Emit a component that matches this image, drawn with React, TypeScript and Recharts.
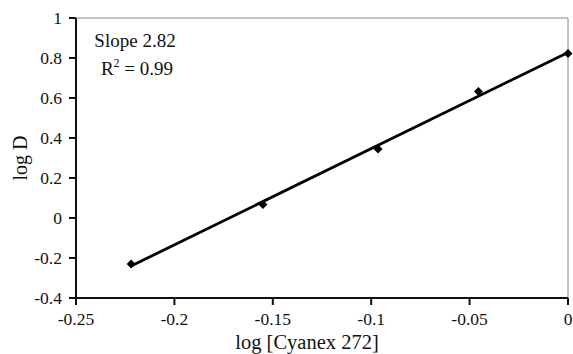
import React from 'react';
import { ScatterChart, Scatter, XAxis, YAxis, ReferenceLine } from 'recharts';

const logCyanex = [-0.222, -0.155, -0.0965, -0.0455, 0];
const logD = [-0.23, 0.068, 0.345, 0.633, 0.823];
const fitX = [-0.222, 0];
const fitY = [-0.24, 0.828];
const xTicks = [-0.25, -0.2, -0.15, -0.1, -0.05, 0];
const yTicks = [-0.4, -0.2, 0, 0.2, 0.4, 0.6, 0.8, 1];

const points = logCyanex.map((x, i) => ({ x, y: logD[i] }));
const fit = fitX.map((x, i) => ({ x, y: fitY[i] }));

const font = 'Liberation Serif, Times New Roman, serif';
const tickStyle = { fontFamily: font, fontSize: 17.5, fill: '#111' };

const fmt = (v: number) => String(Math.round(v * 100) / 100);

const Diamond = (props: any) => {
  const { cx, cy } = props;
  if (cx == null || cy == null) return <g />;
  const r = 4.5;
  return <polygon points={`${cx},${cy - r} ${cx + r},${cy} ${cx},${cy + r} ${cx - r},${cy}`} fill="#000" />;
};

export default function App() {
  return (
    <div style={{ position: 'absolute', left: 0, top: 0, width: 573, height: 354, background: '#fff', fontFamily: font }}>
      <ScatterChart width={573} height={354} margin={{ top: 18, right: 5, bottom: 0, left: 0 }} style={{ fontFamily: font }}>
        <XAxis
          type="number"
          dataKey="x"
          domain={[-0.25, 0]}
          ticks={xTicks}
          tickFormatter={fmt}
          height={56}
          tickSize={7}
          tickMargin={8}
          stroke="#111"
          strokeWidth={2}
          tick={tickStyle}
          label={{ value: 'log [Cyanex 272]', position: 'insideBottom', offset: 5, dx: -15, fontFamily: font, fontSize: 20.5, fill: '#111' }}
        />
        <YAxis
          type="number"
          dataKey="y"
          domain={[-0.4, 1]}
          ticks={yTicks}
          tickFormatter={fmt}
          width={76}
          tickSize={7}
          tickMargin={7}
          stroke="#111"
          strokeWidth={2}
          tick={tickStyle}
          label={{ value: 'log D', angle: -90, position: 'insideLeft', offset: 20, fontFamily: font, fontSize: 20, fill: '#111', style: { textAnchor: 'middle' } }}
        />
        <ReferenceLine y={1} stroke="#888" strokeWidth={1} ifOverflow="visible" />
        <ReferenceLine x={0} stroke="#888" strokeWidth={1} ifOverflow="visible" />
        <Scatter
          data={fit}
          line={{ stroke: '#000', strokeWidth: 2.8 }}
          shape={() => <g />}
          isAnimationActive={false}
        />
        <Scatter data={points} shape={Diamond} fill="#000" isAnimationActive={false} />
      </ScatterChart>
      <div style={{ position: 'absolute', left: 75, top: 31, width: 120, textAlign: 'center', fontFamily: font, fontSize: 19, color: '#111', lineHeight: '19px', whiteSpace: 'nowrap' }}>
        Slope 2.82
      </div>
      <div style={{ position: 'absolute', left: 77, top: 59, width: 120, textAlign: 'center', fontFamily: font, fontSize: 19, color: '#111', lineHeight: '19px', whiteSpace: 'nowrap' }}>
        R<sup style={{ fontSize: 12, lineHeight: 0, verticalAlign: 'baseline', position: 'relative', top: -8 }}>2</sup> = 0.99
      </div>
    </div>
  );
}
